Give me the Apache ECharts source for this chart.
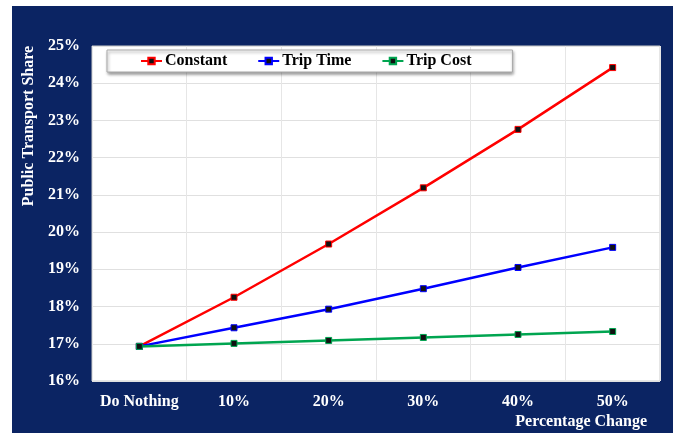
<!DOCTYPE html>
<html><head><meta charset="utf-8">
<script src="https://cdn.jsdelivr.net/npm/echarts@6/dist/echarts.min.js"></script>
<style>html,body{margin:0;padding:0;background:#fff}#c{width:678px;height:433px}</style>
</head><body><div id="c"></div>
<script>
const categories = ['Do Nothing', '10%', '20%', '30%', '40%', '50%'];
const constant = [16.93, 18.25, 19.68, 21.19, 22.76, 24.42];
const tripTime = [16.93, 17.43, 17.93, 18.48, 19.05, 19.59];
const tripCost = [16.93, 17.01, 17.09, 17.17, 17.25, 17.33];
const yTicks = { min: 16, max: 25, interval: 1 };
const FONT = 'Liberation Serif';
const chart = echarts.init(document.getElementById('c'));
function ser(name, data, color) {
  return {
    name, type: 'line', data,
    symbol: 'rect', symbolSize: 6, showSymbol: true,
    lineStyle: { color, width: 2.5 },
    itemStyle: { color: '#111', borderColor: color, borderWidth: 1 },
    emphasis: { disabled: true }, animation: false
  };
}
chart.setOption({
  animation: false,
  textStyle: { fontFamily: FONT },
  graphic: [
    { type: 'rect', z: -10, shape: { x: 12, y: 6, width: 661, height: 430 }, style: { fill: '#0b2463' } },
    { type: 'text', rotation: Math.PI / 2, x: 29, y: 126, style: { text: 'Public Transport Share', fill: '#fff', font: 'bold 16px "Liberation Serif"', align: 'center', verticalAlign: 'middle' } }
  ],
  legend: {
    top: 50, left: 107,
    padding: [3, 41, 3, 33], itemGap: 30, itemWidth: 21, itemHeight: 8,
    backgroundColor: '#fff', borderColor: '#aaa', borderWidth: 1,
    shadowColor: 'rgba(0,0,0,0.4)', shadowBlur: 3, shadowOffsetX: 1, shadowOffsetY: 2,
    textStyle: { fontFamily: FONT, fontWeight: 'bold', fontSize: 16, color: '#000', padding: [0, 0, 0, -2] },
    data: ['Constant', 'Trip Time', 'Trip Cost']
  },
  grid: { left: 92, right: 18, top: 46, bottom: 52, show: true, backgroundColor: '#fff', borderColor: '#ccc', borderWidth: 1, containLabel: false },
  xAxis: {
    type: 'category', data: categories, boundaryGap: true,
    name: 'Percentage Change', nameLocation: 'end', nameGap: 0,
    nameTextStyle: { color: '#fff', fontFamily: FONT, fontWeight: 'bold', fontSize: 16, align: 'right', verticalAlign: 'top', padding: [33, 13, 0, 0] },
    axisLine: { show: false }, axisTick: { show: false },
    axisLabel: { interval: 0, color: '#fff', fontFamily: FONT, fontWeight: 'bold', fontSize: 16, margin: 13 },
    splitLine: { show: true, interval: 0, lineStyle: { color: '#e6e6e6' } }
  },
  yAxis: {
    type: 'value', min: yTicks.min, max: yTicks.max, interval: yTicks.interval,
    axisLine: { show: false }, axisTick: { show: false },
    axisLabel: { color: '#fff', fontFamily: FONT, fontWeight: 'bold', fontSize: 16, margin: 12, formatter: v => v + '%' },
    splitLine: { show: true, lineStyle: { color: '#e0e0e0' } }
  },
  series: [
    ser('Constant', constant, '#ff0000'),
    ser('Trip Time', tripTime, '#0000ff'),
    ser('Trip Cost', tripCost, '#00a550')
  ]
});
</script></body></html>
